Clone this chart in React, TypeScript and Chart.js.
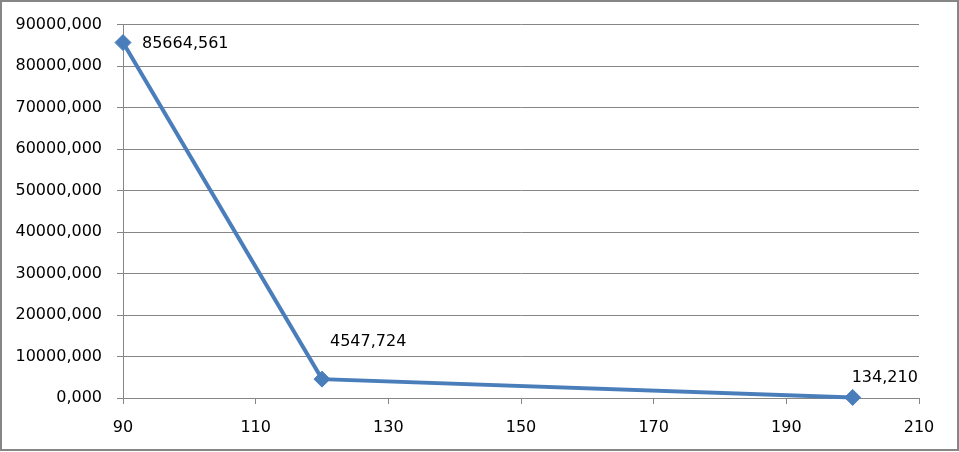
import React, { useEffect, useRef } from "react";
import { Chart, registerables } from "chart.js";

Chart.register(...registerables);

const xValues = [90, 120, 200];
const yValues = [85664.561, 4547.724, 134.21];
const pointLabels = ["85664,561", "4547,724", "134,210"];
const xTicksRange = { min: 90, max: 210, step: 20 };
const yTicksRange = { min: 0, max: 90000, step: 10000 };

// label placement styles (pixel offsets from each marker)
const labelOffsets = [
  { dx: 19, dy: 1 },
  { dx: 8, dy: -37 },
  { dx: -1, dy: -19.5 },
];

const FONT = "'DejaVu Sans', sans-serif";
const GRID = "#868686";
const LINE = "#4A7EBB";

const fmt = (v: number) => v.toFixed(3).replace(".", ",");

export default function App() {
  const ref = useRef<HTMLCanvasElement | null>(null);

  useEffect(() => {
    if (!ref.current) return;
    const bgBorder = {
      id: "bgBorder",
      beforeDraw(chart: any) {
        const ctx = chart.ctx;
        ctx.save();
        ctx.fillStyle = "#ffffff";
        ctx.fillRect(0, 0, chart.width, chart.height);
        ctx.restore();
      },
      afterDraw(chart: any) {
        const ctx = chart.ctx;
        ctx.save();
        ctx.strokeStyle = GRID;
        ctx.lineWidth = 2;
        ctx.strokeRect(1, 1, chart.width - 2, chart.height - 3);
        ctx.restore();
      },
    };
    const dataLabels = {
      id: "dataLabels",
      afterDatasetsDraw(chart: any) {
        const ctx = chart.ctx;
        const meta = chart.getDatasetMeta(0);
        ctx.save();
        ctx.font = `16px ${FONT}`;
        ctx.fillStyle = "#000000";
        ctx.textAlign = "left";
        ctx.textBaseline = "middle";
        meta.data.forEach((pt: any, i: number) => {
          const off = labelOffsets[i] || { dx: 0, dy: 0 };
          ctx.fillText(pointLabels[i], pt.x + off.dx, pt.y + off.dy);
        });
        ctx.restore();
      },
    };

    const chart = new Chart(ref.current, {
      type: "scatter",
      data: {
        datasets: [
          {
            data: xValues.map((x, i) => ({ x, y: yValues[i] })),
            showLine: true,
            clip: false,
            borderColor: LINE,
            backgroundColor: LINE,
            borderWidth: 4,
            pointStyle: "rectRot",
            pointRadius: 8,
            pointHoverRadius: 8,
            pointBorderWidth: 1,
            pointBorderColor: LINE,
            pointBackgroundColor: LINE,
          },
        ],
      },
      options: {
        animation: false,
        responsive: false,
        maintainAspectRatio: false,
        events: [],
        layout: { padding: { top: 24, right: 40, bottom: 0, left: 0 } },
        plugins: {
          legend: { display: false },
          tooltip: { enabled: false },
        },
        scales: {
          x: {
            type: "linear",
            min: xTicksRange.min,
            max: xTicksRange.max,
            afterFit(scale: any) {
              scale.height = 54;
            },
            ticks: {
              stepSize: xTicksRange.step,
              color: "#000000",
              font: { family: FONT, size: 16 },
              padding: 14,
              maxRotation: 0,
            },
            grid: {
              drawOnChartArea: false,
              drawTicks: true,
              tickLength: 6,
              color: GRID,
              lineWidth: 1,
            },
            border: { display: true, color: GRID, width: 1 },
          },
          y: {
            min: yTicksRange.min,
            max: yTicksRange.max,
            afterFit(scale: any) {
              scale.width = 123;
            },
            ticks: {
              stepSize: yTicksRange.step,
              color: "#000000",
              font: { family: FONT, size: 16 },
              padding: 15,
              callback: (v: any) => fmt(Number(v)),
            },
            grid: {
              drawTicks: true,
              tickLength: 6,
              color: GRID,
              lineWidth: 1,
            },
            border: { display: true, color: GRID, width: 1 },
          },
        },
      },
      plugins: [bgBorder, dataLabels],
    });
    return () => chart.destroy();
  }, []);

  return (
    <div style={{ position: "absolute", left: 0, top: 0, width: 959, height: 452 }}>
      <canvas ref={ref} width={959} height={452} style={{ display: "block" }} />
    </div>
  );
}
